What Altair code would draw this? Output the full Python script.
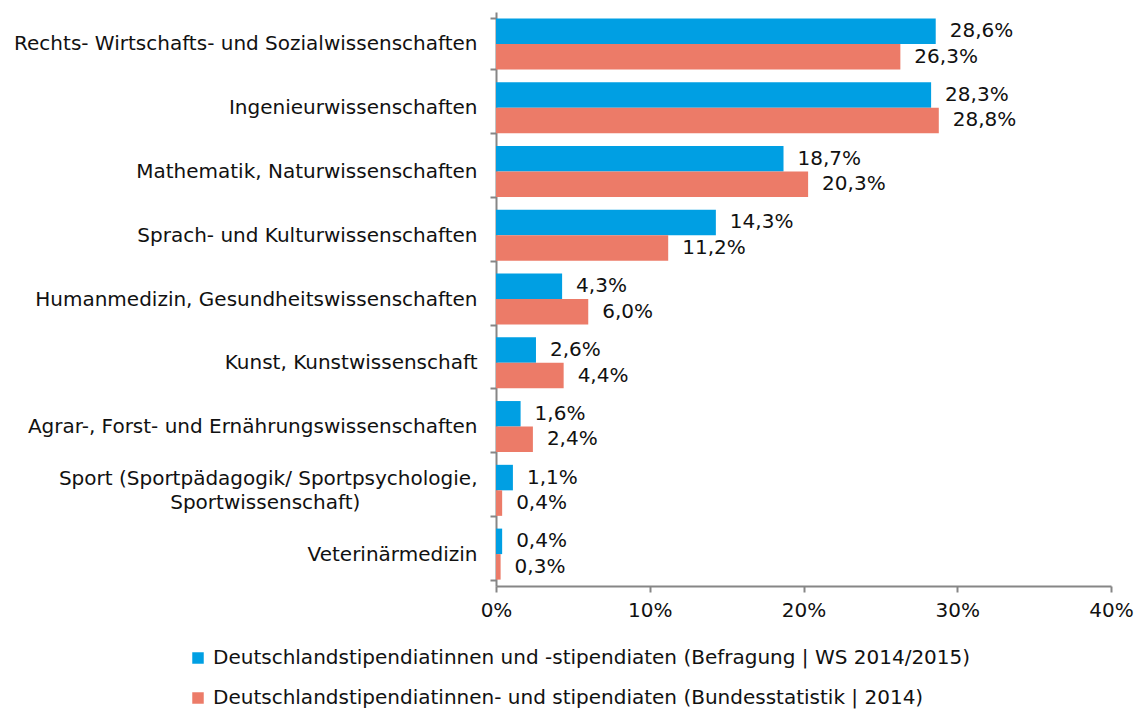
import altair as alt
import pandas as pd

PAD = "\u2800"
categories = [
    "Rechts- Wirtschafts- und Sozialwissenschaften",
    "Ingenieurwissenschaften",
    "Mathematik, Naturwissenschaften",
    "Sprach- und Kulturwissenschaften",
    "Humanmedizin, Gesundheitswissenschaften",
    "Kunst, Kunstwissenschaft",
    "Agrar-, Forst- und Ernährungswissenschaften",
    "Sport (Sportpädagogik/ Sportpsychologie,\nSportwissenschaft)" + PAD * 8,
    "Veterinärmedizin",
]
series = [
    "Deutschlandstipendiatinnen und -stipendiaten (Befragung | WS 2014/2015)",
    "Deutschlandstipendiatinnen- und stipendiaten (Bundesstatistik | 2014)",
]
befragung = [28.6, 28.3, 18.7, 14.3, 4.3, 2.6, 1.6, 1.1, 0.4]
bundesstatistik = [26.3, 28.8, 20.3, 11.2, 6.0, 4.4, 2.4, 0.4, 0.3]
colors = ["#009FE3", "#EC7B68"]
x_ticks = [0, 10, 20, 30, 40]

rows = []
for s, vals in zip(series, [befragung, bundesstatistik]):
    for c, v in zip(categories, vals):
        rows.append({"cat": c, "series": s, "value": v,
                     "label": f"{v:.1f}".replace(".", ",") + "%"})
df = pd.DataFrame(rows)

FONT = "DejaVu Sans"
FS = 20
TXT = "#111111"

y_enc = alt.Y("cat:N", sort=categories, title=None,
              scale=alt.Scale(paddingInner=0.2, paddingOuter=0.1),
              axis=alt.Axis(tickBand="extent", labelExpr="split(datum.label, '\\n')",
                            labelFontSize=FS, labelFont=FONT, labelColor=TXT,
                            labelPadding=13, tickSize=6, labelLimit=0,
                            labelOffset={"condition": {"test": "indexof(datum.label, 'Sport (') == 0",
                                                       "value": -12}, "value": 0},
                            domainColor="#868686", tickColor="#868686",
                            domainWidth=2, tickWidth=2, labelLineHeight=24))
yoff = alt.YOffset("series:N", sort=series)
x_enc = alt.X("value:Q", title=None,
              scale=alt.Scale(domain=[0, 40], nice=False),
              axis=alt.Axis(values=x_ticks, labelExpr="datum.value + '%'", grid=False,
                            labelFontSize=FS, labelFont=FONT, labelColor=TXT,
                            labelPadding=8, tickSize=6, labelFlush=False,
                            domainColor="#868686", tickColor="#868686",
                            domainWidth=2, tickWidth=2))

bars = alt.Chart(df).mark_bar().encode(
    y=y_enc, yOffset=yoff, x=x_enc,
    color=alt.Color("series:N", sort=series,
                    scale=alt.Scale(domain=series, range=colors),
                    legend=alt.Legend(title=None, orient="none", legendX=-308, legendY=636,
                                      direction="vertical", symbolType="square",
                                      symbolSize=132, symbolStrokeWidth=0,
                                      labelFontSize=FS, labelFont=FONT, labelColor=TXT,
                                      labelLimit=0, rowPadding=20, labelOffset=5)),
)
texts = alt.Chart(df).mark_text(align="left", baseline="middle", dx=14,
                                fontSize=FS, font=FONT, color=TXT).encode(
    y=alt.Y("cat:N", sort=categories), yOffset=yoff, x="value:Q", text="label:N"
)

chart = (bars + texts).properties(
    width=615, height=574,
    padding={"left": 496, "top": 12, "right": 30, "bottom": 124},
    autosize=alt.AutoSizeParams(type="none"),
).configure(background="white").configure_view(stroke=None)

chart.save("out.html", embed_options={"renderer": "svg", "actions": False})
